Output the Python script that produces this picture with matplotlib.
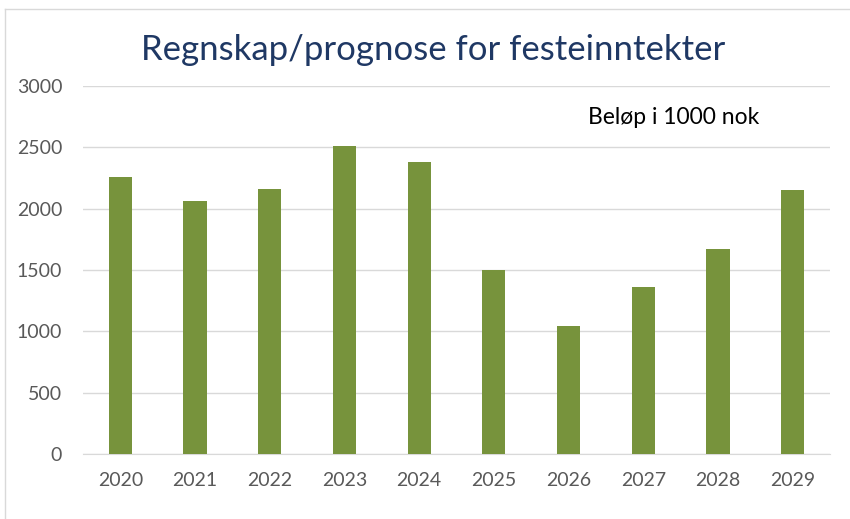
import matplotlib.pyplot as plt
from matplotlib.lines import Line2D

years = ['2020', '2021', '2022', '2023', '2024', '2025', '2026', '2027', '2028', '2029']
values = [2260, 2060, 2160, 2510, 2380, 1500, 1045, 1360, 1670, 2150]
y_ticks = [0, 500, 1000, 1500, 2000, 2500, 3000]

plt.rcParams['font.family'] = ['Lato', 'DejaVu Sans']

fig = plt.figure(figsize=(8.5, 5.19), dpi=100)
ax = fig.add_axes([83 / 850, 1 - 454 / 519, (830 - 83) / 850, (454 - 86) / 519])

ax.bar(range(len(years)), values, width=0.31, color='#77933C', zorder=3)
ax.set_xlim(-0.5, len(years) - 0.5)
ax.set_ylim(0, 3000)
ax.set_yticks(y_ticks)
ax.set_xticks(range(len(years)))
ax.set_xticklabels(years)
ax.grid(axis='y', color='#D9D9D9', linewidth=1, zorder=0)
for s in ['top', 'right', 'left']:
    ax.spines[s].set_visible(False)
ax.spines['bottom'].set_color('#D9D9D9')
ax.tick_params(length=0, labelsize=14, colors='#595959')
ax.tick_params(axis='x', pad=13)
ax.tick_params(axis='y', pad=15)

fig.text(0.51, 1 - 50 / 519, 'Regnskap/prognose for festeinntekter', ha='center', va='center',
         fontsize=25, color='#1F3864')
fig.text(588 / 850, 1 - 117 / 519, 'Beløp i 1000 nok', ha='left', va='center',
         fontsize=16.5, color='black')

# faint chart frame
fig.add_artist(Line2D([5 / 850, 1], [1 - 9 / 519] * 2, transform=fig.transFigure, color='#D9D9D9', lw=1))
fig.add_artist(Line2D([5 / 850] * 2, [0, 1 - 9 / 519], transform=fig.transFigure, color='#D9D9D9', lw=1))

fig.savefig('out.png', dpi=100)
